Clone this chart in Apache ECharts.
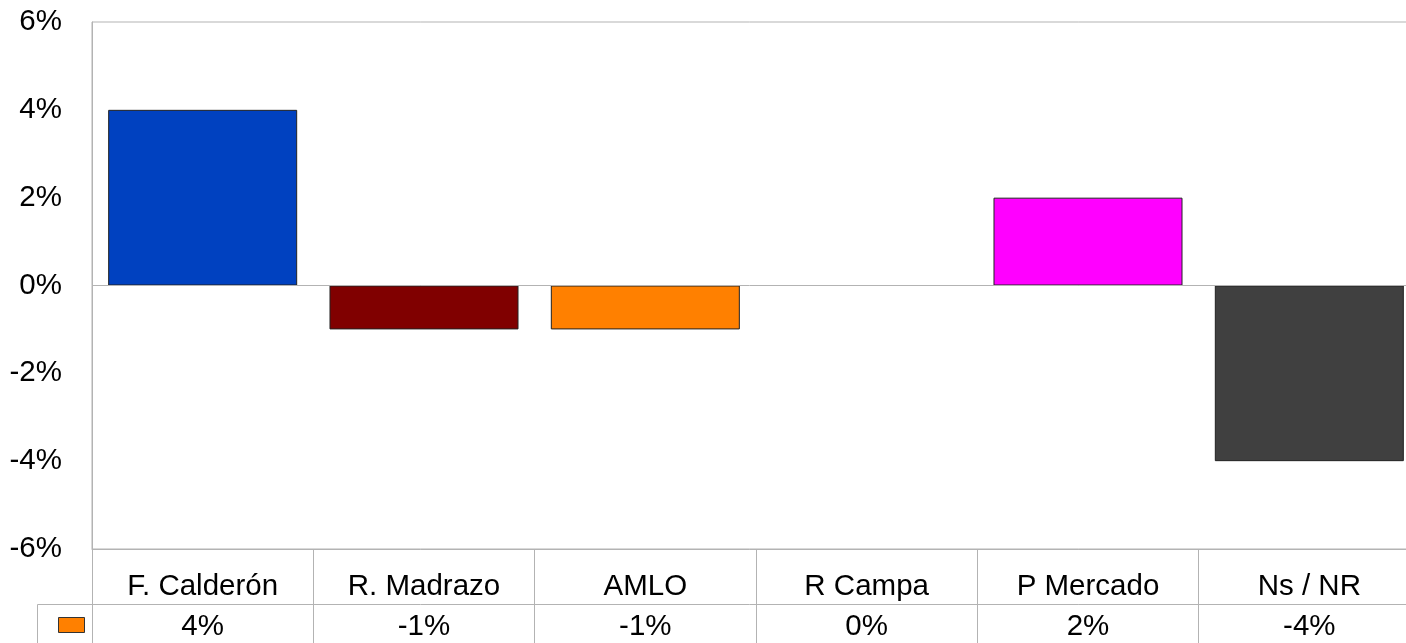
<!DOCTYPE html>
<html>
<head>
<meta charset="utf-8">
<script src="https://cdn.jsdelivr.net/npm/echarts@6/dist/echarts.min.js"></script>
<style>
html,body{margin:0;padding:0;background:#fff;}
#chart{width:1406px;height:643px;}
</style>
</head>
<body>
<div id="chart"></div>
<script>
const categories = ['F. Calderón', 'R. Madrazo', 'AMLO', 'R Campa', 'P Mercado', 'Ns / NR'];
const values = [4, -1, -1, 0, 2, -4];
const barColors = ['#0041c0', '#800000', '#ff8000', '#ff8000', '#ff00ff', '#404040'];
const yTicks = [-6, -4, -2, 0, 2, 4, 6];

const FONT = '"Liberation Sans", Arial, sans-serif';
const LINE = '#b3b3b3';
const chart = echarts.init(document.getElementById('chart'), null, {renderer: 'canvas'});

chart.setOption({
  animation: false,
  backgroundColor: '#ffffff',
  grid: {
    left: 92, top: 22, width: 1328, height: 527,
    outerBoundsMode: 'none', containLabel: false,
    show: true, borderColor: LINE, borderWidth: 1, backgroundColor: 'transparent'
  },
  legend: {
    left: 58, top: 617, padding: 0,
    itemWidth: 26, itemHeight: 15,
    selectedMode: false,
    formatter: function () { return ''; },
    data: [{name: 'serie', icon: 'rect', itemStyle: {color: '#ff8000', borderColor: '#333', borderWidth: 1}}]
  },
  xAxis: [
    {
      type: 'category',
      data: categories,
      position: 'bottom',
      axisLine: {show: true, onZero: false, lineStyle: {color: LINE, width: 1}},
      axisTick: {show: true, interval: 0, length: 94, lineStyle: {color: LINE, width: 1}},
      axisLabel: {
        interval: 0, margin: 23, fontSize: 29.5, lineHeight: 30,
        color: '#000', fontFamily: FONT
      },
      splitLine: {show: false}
    },
    {
      type: 'category',
      data: values.map(v => v + '%'),
      position: 'bottom',
      offset: 55,
      axisLine: {show: true, onZero: false, lineStyle: {color: LINE, width: 1}},
      axisTick: {show: false},
      axisLabel: {
        interval: 0, margin: 8, fontSize: 29.5, lineHeight: 30,
        color: '#000', fontFamily: FONT
      },
      splitLine: {show: false}
    }
  ],
  yAxis: {
    type: 'value',
    min: yTicks[0], max: yTicks[yTicks.length - 1], interval: 2,
    axisLine: {show: true, lineStyle: {color: LINE, width: 1}},
    axisTick: {show: false},
    splitLine: {show: false},
    axisLabel: {
      margin: 30, fontSize: 29.5, color: '#000', fontFamily: FONT,
      padding: [5, 0, 0, 0],
      formatter: v => v + '%'
    }
  },
  series: [{
    name: 'serie',
    type: 'bar',
    xAxisIndex: 0,
    barCategoryGap: '14.6%',
    data: values.map((v, i) => ({
      value: v,
      itemStyle: {color: barColors[i], borderColor: '#222', borderWidth: 1}
    })),
    markLine: {
      silent: true,
      symbol: ['none', 'none'],
      label: {show: false},
      lineStyle: {color: LINE, width: 1, type: 'solid'},
      data: [{yAxis: 0}]
    }
  }],
  graphic: [
    {type: 'line', shape: {x1: 37.5, y1: 604.5, x2: 92.5, y2: 604.5}, style: {stroke: LINE, lineWidth: 1}, silent: true},
    {type: 'line', shape: {x1: 37.5, y1: 604.5, x2: 37.5, y2: 643}, style: {stroke: LINE, lineWidth: 1}, silent: true}
  ]
});
</script>
</body>
</html>
